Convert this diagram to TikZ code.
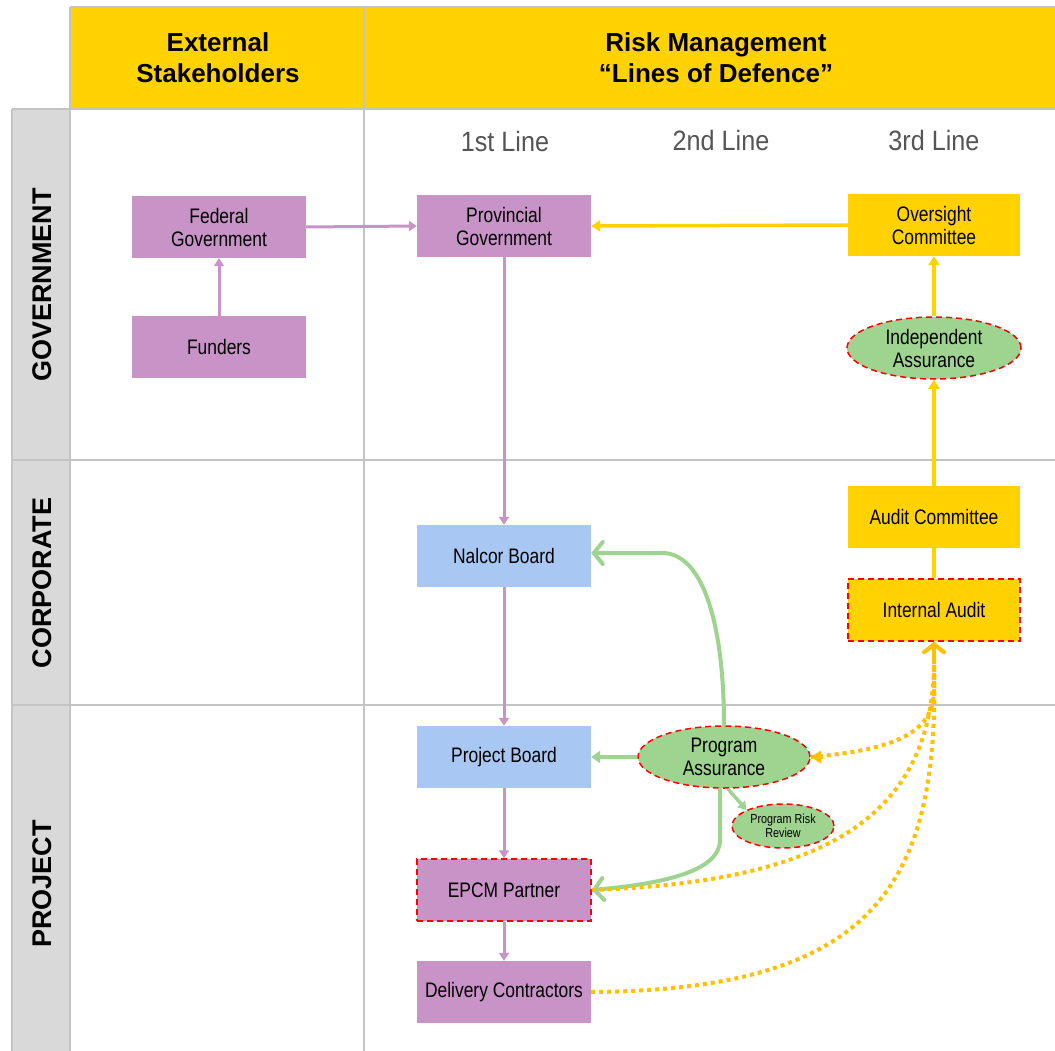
\documentclass[tikz,border=0pt]{standalone}
\usepackage{fontspec}
\setmainfont{Liberation Sans}
\newfontfamily\narrowf{Liberation Sans}[FakeStretch=0.83]
\newfontfamily\colf{Liberation Sans}[FakeStretch=0.9]
\usetikzlibrary{shapes.geometric,arrows.meta}
\definecolor{hdr}{HTML}{FFD200}
\definecolor{pur}{HTML}{C893C6}
\definecolor{blu}{HTML}{A8C8F3}
\definecolor{grn}{HTML}{9ED48F}
\definecolor{gline}{HTML}{C4C4C4}
\definecolor{gfill}{HTML}{D9D9D9}
\definecolor{txtgray}{HTML}{555555}
\definecolor{dotyel}{HTML}{FFC000}
\begin{document}
\begin{tikzpicture}[x=1pt,y=-1pt,
  box/.style={rectangle,minimum width=174pt,minimum height=62pt,inner sep=1pt,align=center,
    font=\narrowf\fontsize{21}{23}\selectfont},
  purbox/.style={box,fill=pur},
  blubox/.style={box,fill=blu},
  yelbox/.style={box,fill=hdr},
  reddash/.style={draw=red,line width=1.5pt,dash pattern=on 6pt off 4pt},
  ell/.style={ellipse,fill=grn,reddash,inner sep=0pt,align=center,
    font=\narrowf\fontsize{21}{23}\selectfont},
  parrow/.style={draw=pur,line width=3pt,-{Triangle[width=10pt,length=8pt]}},
  yarrow/.style={draw=hdr,line width=3.5pt,-{Triangle[width=11pt,length=9pt]}},
  garrow/.style={draw=grn,line width=3.5pt,-{Triangle[width=12pt,length=9pt]}},
  gopen/.style={draw=grn,line width=4pt,line cap=round,-{Straight Barb[length=9pt,width=22pt,line cap=round]}},
  ydot/.style={draw=dotyel,line width=4pt,dash pattern=on 4pt off 4pt},
  hdrtxt/.style={font=\bfseries\fontsize{26}{31}\selectfont,align=center},
  rowtxt/.style={font=\bfseries\fontsize{27}{30}\selectfont,rotate=90},
  coltxt/.style={font=\colf\fontsize{28}{32}\selectfont,text=txtgray}
]
\useasboundingbox (0,0) rectangle (1055,1051);
\fill[white] (0,0) rectangle (1055,1051);
% header band
\fill[hdr] (70,7) rectangle (1055,108);
\draw[gline,line width=2pt] (70,7) -- (1055,7);
\draw[gline,line width=2pt] (70,7) -- (70,1051);
\draw[gline,line width=2pt] (364,7) -- (364,1051);
\draw[gline,line width=2pt] (12,109) -- (1055,109);
% row label column
\fill[gfill] (12,110) rectangle (70,1051);
\draw[gline,line width=2pt] (12,109) -- (12,1051);
\draw[gline,line width=2pt] (12,460) -- (1055,460);
\draw[gline,line width=2pt] (12,705) -- (1055,705);
\draw[gline,line width=2pt] (70,109) -- (70,1051);
% header texts
\node[hdrtxt] (hext) at (218,58) {External\\Stakeholders};
\node[hdrtxt] (hrisk) at (716,58) {Risk Management\\“Lines of Defence”};
\node[rowtxt] (rgov) at (42,285) {GOVERNMENT};
\node[rowtxt] (rcorp) at (42,583) {CORPORATE};
\node[rowtxt] (rproj) at (42,884) {PROJECT};
\node[coltxt] (c1) at (505,141) {1st Line};
\node[coltxt] (c2) at (721,140) {2nd Line};
\node[coltxt] (c3) at (934,140) {3rd Line};
% nodes
\node[purbox] (fed) at (219,227) {Federal\\Government};
\node[purbox] (fund) at (219,347) {Funders};
\node[purbox] (prov) at (504,226) {Provincial\\Government};
\node[yelbox,minimum width=172pt] (over) at (934,225) {Oversight\\Committee};
\node[ell,minimum width=174pt,minimum height=62pt] (ind) at (934,348) {Independent\\Assurance};
\node[yelbox,minimum width=172pt] (aud) at (934,517) {Audit Committee};
\node[yelbox,minimum width=172pt,reddash] (int) at (934,610) {Internal Audit};
\node[blubox] (nal) at (504,556) {Nalcor Board};
\node[blubox] (pb) at (504,757) {Project Board};
\node[ell,minimum width=172pt,minimum height=62pt] (pa) at (724,757) {Program\\Assurance};
\node[ell,minimum width=102pt,minimum height=44pt,font=\narrowf\fontsize{13}{14}\selectfont] (prr) at (783,826) {Program Risk\\Review};
\node[purbox,reddash] (epcm) at (504,890) {EPCM Partner};
\node[purbox] (del) at (504,992) {Delivery Contractors};
% purple arrows
\draw[parrow] (fed.east) -- (prov.west);
\draw[parrow] (fund.north) -- (fed.south);
\draw[parrow] (prov.south) -- (nal.north);
\draw[parrow] (nal.south) -- (pb.north);
\draw[parrow] (pb.south) -- (epcm.north);
\draw[parrow] (epcm.south) -- (del.north);
% yellow arrows
\draw[yarrow] (over.west) -- (prov.east);
\draw[yarrow] (ind.north) -- (over.south);
\draw[yarrow] (aud.north) -- (ind.south);
\draw[draw=hdr,line width=3.5pt] (int.north) -- (aud.south);
% green arrows
\draw[gopen] (pa.north) .. controls (724,630) and (705,553) .. (662,553) -- ([yshift=3pt]nal.east);
\draw[garrow] (pa.west) -- (pb.east);
\coordinate (pas) at (728,789);
\draw[draw=grn,line width=3.5pt,-{Triangle[width=10pt,length=8pt]}] (pas) -- (prr.north west);
\coordinate (pas2) at (720,789);
\draw[gopen] (pas2) -- (720,840) .. controls (720,872) and (660,884) .. (epcm.east);
% yellow dotted
\coordinate (ia) at (934,660);
\draw[ydot] (pa.east) .. controls (890,750) and (934,735) .. (934,690) -- (ia);
\draw[draw=dotyel,line width=4pt,-{Triangle[width=12pt,length=10pt]}] ([xshift=12pt]pa.east) -- (pa.east);
\draw[ydot] (epcm.east) .. controls (820,882) and (934,820) .. (ia);
\draw[ydot] (del.east) .. controls (880,990) and (940,880) .. (ia);
\draw[draw=dotyel,line width=4pt,line cap=round,-{Straight Barb[length=8pt,width=20pt,line cap=round]}] (ia) -- (int.south);
\end{tikzpicture}
\end{document}
